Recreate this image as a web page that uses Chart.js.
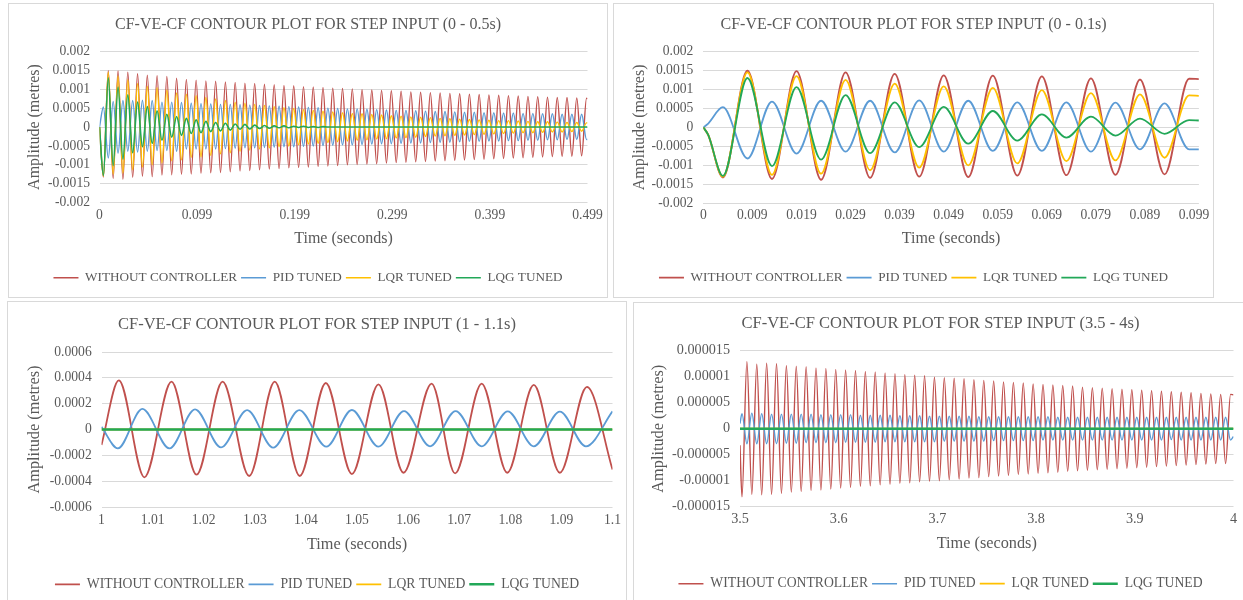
<!DOCTYPE html>
<html><head><meta charset="utf-8">
<script src="https://cdn.jsdelivr.net/npm/chart.js@4.4.1/dist/chart.umd.min.js"></script>
<style>
html,body{margin:0;padding:0;background:#fff;width:1243px;height:600px;overflow:hidden;position:relative}
.panel{position:absolute;border:1px solid #D9D9D9;background:#fff;box-sizing:content-box}
.panel canvas{display:block}
</style></head>
<body>
<div class="panel" style="left:8px;top:3px;width:598px;height:293px"><canvas id="c1" width="598" height="293"></canvas></div>
<div class="panel" style="left:613px;top:3px;width:599px;height:293px"><canvas id="c2" width="599" height="293"></canvas></div>
<div class="panel" style="left:7px;top:301px;width:618px;height:300px"><canvas id="c3" width="618" height="300"></canvas></div>
<div class="panel" style="left:633px;top:302px;width:613px;height:300px"><canvas id="c4" width="613" height="300"></canvas></div>
<script>
// ---------- shared ----------
const seriesNames = ['WITHOUT CONTROLLER', 'PID TUNED', 'LQR TUNED', 'LQG TUNED'];
const seriesColors = ['#C0504D', '#5B9BD5', '#FFC000', '#22A858'];

// ---------- chart 1 : 0 - 0.5 s (time in ms, sample index) ----------
const xTickPos1 = [0, 100, 200, 300, 400, 500];
const xTickLabels1 = ['0', '0.099', '0.199', '0.299', '0.399', '0.499'];
const yTickLabels12 = ['-0.002', '-0.0015', '-0.001', '-0.0005', '0', '0.0005', '0.001', '0.0015', '0.002'];
const time1 = [0,4,9,14,19,24,29,34,39,44,49,54,59,64,69,74,79,84,89,94,99,
104,109,114,119,124,129,134,139,144,149,154,159,164,169,174,179,184,189,194,199,
204,209,214,219,224,229,234,239,244,249,254,259,264,269,274,279,284,289,294,299,
304,309,314,319,324,329,334,339,344,349,354,359,364,369,374,379,384,389,394,399,
404,409,414,419,424,429,434,439,444,449,454,459,464,469,474,479,484,489,494,499,500];
const red1 = [0,-0.00132,0.00149,-0.00136,0.00148,-0.00138,0.00145,-0.00133,0.00141,-0.0013,0.00137,-0.00131,0.00136,-0.00127,0.00134,-0.00126,0.00129,-0.00125,0.00126,-0.00124,0.00124,
-0.00122,0.00122,-0.00121,0.00121,-0.0012,0.00119,-0.00118,0.00118,-0.00116,0.00116,-0.00115,0.00115,-0.00113,0.00113,-0.00111,0.00112,-0.0011,0.0011,-0.00108,0.00109,
-0.00107,0.00107,-0.00106,0.00106,-0.00104,0.00105,-0.00103,0.00103,-0.00102,0.00102,-0.001,0.00101,-0.00099,0.00099,-0.00098,0.00098,-0.00097,0.00097,-0.00095,0.00096,
-0.00094,0.00095,-0.00093,0.00093,-0.00092,0.00092,-0.00091,0.00091,-0.0009,0.0009,-0.00089,0.00089,-0.00088,0.00088,-0.00087,0.00087,-0.00086,0.00086,-0.00085,0.00085,
-0.00084,0.00084,-0.00083,0.00083,-0.00082,0.00082,-0.00081,0.00081,-0.0008,0.0008,-0.00079,0.00079,-0.00078,0.00078,-0.00077,0.00078,-0.00077,0.00077,-0.00076,0.00076,0.00075];
const blue1 = [0,0.00053,-0.00082,0.00068,-0.00069,0.0007,-0.00064,0.0007,-0.00066,0.00071,-0.00064,0.0007,-0.00062,0.00066,-0.00062,0.00066,-0.00064,0.00065,-0.00058,0.00063,-0.00058,
0.00062,-0.00058,0.00061,-0.00058,0.0006,-0.00057,0.0006,-0.00056,0.00059,-0.00055,0.00058,-0.00055,0.00057,-0.00054,0.00056,-0.00053,0.00055,-0.00052,0.00054,-0.00052,
0.00053,-0.00051,0.00052,-0.0005,0.00051,-0.00049,0.0005,-0.00048,0.00049,-0.00047,0.00048,-0.00047,0.00048,-0.00046,0.00047,-0.00045,0.00046,-0.00044,0.00045,-0.00044,
0.00044,-0.00043,0.00044,-0.00042,0.00043,-0.00042,0.00042,-0.00041,0.00041,-0.0004,0.00041,-0.0004,0.0004,-0.00039,0.00039,-0.00038,0.00039,-0.00038,0.00038,-0.00037,
0.00038,-0.00037,0.00037,-0.00036,0.00037,-0.00036,0.00036,-0.00035,0.00036,-0.00035,0.00035,-0.00034,0.00035,-0.00034,0.00034,-0.00033,0.00034,-0.00033,0.00034,-0.00033,-0.00033];
const yellow1 = [0,-0.0013,0.00145,-0.00125,0.00135,-0.00122,0.00125,-0.00113,0.00115,-0.00106,0.00108,-0.001,0.00104,-0.00095,0.00098,-0.00089,0.0009,-0.00087,0.00087,-0.0008,0.00083,
-0.00079,0.00078,-0.00075,0.00074,-0.00071,0.0007,-0.00068,0.00066,-0.00064,0.00063,-0.00061,0.0006,-0.00058,0.00057,-0.00055,0.00054,-0.00052,0.00051,-0.0005,0.00049,
-0.00047,0.00046,-0.00045,0.00044,-0.00043,0.00042,-0.00041,0.0004,-0.00039,0.00038,-0.00037,0.00036,-0.00035,0.00035,-0.00034,0.00033,-0.00032,0.00032,-0.00031,0.0003,
-0.00029,0.00029,-0.00028,0.00027,-0.00027,0.00026,-0.00025,0.00025,-0.00024,0.00023,-0.00023,0.00022,-0.00022,0.00021,-0.00021,0.0002,-0.0002,0.00019,-0.00019,0.00018,
-0.00018,0.00017,-0.00017,0.00017,-0.00016,0.00016,-0.00015,0.00015,-0.00015,0.00014,-0.00014,0.00014,-0.00013,0.00013,-0.00013,0.00012,-0.00012,0.00012,-0.00011,0.00011,0.00011];
const green1 = [0,-0.00128,0.0013,-0.00102,0.00106,-0.00085,0.00085,-0.00068,0.00066,-0.00052,0.00054,-0.00043,0.00043,-0.00035,0.00034,-0.00027,0.00028,-0.00022,0.00023,-0.00017,0.00019,
-0.00015,0.00015,-0.00012,0.00012,-0.0001,0.0001,-0.00008,0.00008,-0.00006,0.00007,-0.00005,0.00005,-0.00004,0.00004,-0.00003,0.00003,-0.00002,0.00003,-0.00002,0.00002,
-0.00001,0.00002,-0.00001,0.00001,-0.00001,0.00001,0,0,0,0,0,0,0,0,0,0,0,0,0,0,
0,0,0,0,0,0,0,0,0,0,0,0,0,0,0,0,0,0,0,0,
0,0,0,0,0,0,0,0,0,0,0,0,0,0,0,0,0,0,0,0,0];

// ---------- chart 2 : 0 - 0.1 s (time in ms, sample index) ----------
const xTickPos2 = [0, 10, 20, 30, 40, 50, 60, 70, 80, 90, 100];
const xTickLabels2 = ['0', '0.009', '0.019', '0.029', '0.039', '0.049', '0.059', '0.069', '0.079', '0.089', '0.099'];
const time2 = [0,1,4,9,14,19,24,29,34,39,44,49,54,59,64,69,74,79,84,89,94,99,101];
const red2 = [0,-0.0002,-0.00132,0.00149,-0.00136,0.00148,-0.00138,0.00145,-0.00133,0.00141,-0.0013,0.00137,-0.00131,0.00136,-0.00127,0.00134,-0.00126,0.00129,-0.00125,0.00126,-0.00124,0.00128,0.00127];
const blue2 = [0,0.0001,0.00053,-0.00082,0.00068,-0.00069,0.0007,-0.00064,0.0007,-0.00066,0.00071,-0.00064,0.0007,-0.00062,0.00066,-0.00062,0.00066,-0.00064,0.00065,-0.00058,0.00063,-0.00058,-0.00058];
const yellow2 = [0,-0.0002,-0.0013,0.00145,-0.00125,0.00135,-0.00122,0.00125,-0.00113,0.00115,-0.00106,0.00108,-0.001,0.00104,-0.00095,0.00098,-0.00089,0.0009,-0.00087,0.00087,-0.0008,0.00084,0.00083];
const green2 = [0,-0.0002,-0.00128,0.0013,-0.00102,0.00106,-0.00085,0.00085,-0.00068,0.00066,-0.00052,0.00054,-0.00043,0.00043,-0.00035,0.00034,-0.00027,0.00028,-0.00022,0.00023,-0.00017,0.00019,0.00018];

// ---------- chart 3 : 1 - 1.1 s ----------
const xTickLabels3 = ['1', '1.01', '1.02', '1.03', '1.04', '1.05', '1.06', '1.07', '1.08', '1.09', '1.1'];
const yTickLabels3 = ['-0.0006', '-0.0004', '-0.0002', '0', '0.0002', '0.0004', '0.0006'];
const time3Red = [1,1.0034,1.0084,1.0137,1.0186,1.0237,1.0289,1.0339,1.0388,1.0439,1.049,1.0542,1.0591,1.0646,1.0692,1.0744,1.0794,1.0846,1.0897,1.095,1.1];
const red3 = [-0.00012,0.00038,-0.00037,0.00037,-0.00035,0.00037,-0.00036,0.00037,-0.00036,0.00036,-0.000345,0.00035,-0.000335,0.000355,-0.00034,0.000355,-0.000335,0.000345,-0.000335,0.00033,-0.00031];
const time3Blue = [1,1.0032,1.008,1.0133,1.0183,1.0234,1.0285,1.0336,1.0387,1.044,1.049,1.0542,1.0592,1.0643,1.0693,1.0744,1.0795,1.0846,1.0897,1.0948,1.1];
const blue3 = [0.00002,-0.000146,0.000159,-0.000146,0.000156,-0.000139,0.00015,-0.00014,0.00015,-0.000133,0.000151,-0.000133,0.000143,-0.00013,0.000143,-0.00013,0.00014,-0.00013,0.000138,-0.00013,0.00014];
const time3Flat = [1, 1.1];
const yellow3 = [0, 0];
const green3 = [0, 0];

// ---------- chart 4 : 3.5 - 4 s ----------
const xTickLabels4 = ['3.5', '3.6', '3.7', '3.8', '3.9', '4'];
const yTickLabels4 = ['-0.000015', '-0.00001', '-0.000005', '0', '0.000005', '0.00001', '0.000015'];
const time4 = [3.5,3.502,3.507,3.512,3.517,3.522,3.527,3.532,3.537,3.542,3.547,3.552,3.557,3.562,3.567,3.572,3.577,3.582,3.587,3.592,3.597,
3.602,3.607,3.612,3.617,3.622,3.627,3.632,3.637,3.642,3.647,3.652,3.657,3.662,3.667,3.672,3.677,3.682,3.687,3.692,3.697,
3.702,3.707,3.712,3.717,3.722,3.727,3.732,3.737,3.742,3.747,3.752,3.757,3.762,3.767,3.772,3.777,3.782,3.787,3.792,3.797,
3.802,3.807,3.812,3.817,3.822,3.827,3.832,3.837,3.842,3.847,3.852,3.857,3.862,3.867,3.872,3.877,3.882,3.887,3.892,3.897,
3.902,3.907,3.912,3.917,3.922,3.927,3.932,3.937,3.942,3.947,3.952,3.957,3.962,3.967,3.972,3.977,3.982,3.987,3.992,3.997,4];
const red4 = [-3.2e-6,
-1.31e-5,1.29e-5,-1.26e-5,1.24e-5,-1.27e-5,1.26e-5,-1.26e-5,1.25e-5,-1.24e-5,1.21e-5,-1.22e-5,1.2e-5,-1.21e-5,1.19e-5,-1.19e-5,1.17e-5,-1.18e-5,1.16e-5,-1.16e-5,1.14e-5,
-1.14e-5,1.13e-5,-1.13e-5,1.12e-5,-1.11e-5,1.1e-5,-1.1e-5,1.09e-5,-1.08e-5,1.07e-5,-1.07e-5,1.06e-5,-1.05e-5,1.04e-5,-1.04e-5,1.03e-5,-1.02e-5,1.02e-5,-1.01e-5,9.9e-6,
-1e-5,9.8e-6,-9.8e-6,9.7e-6,-9.7e-6,9.6e-6,-9.5e-6,9.4e-6,-9.4e-6,9.3e-6,-9.2e-6,9.2e-6,-9.1e-6,9e-6,-9e-6,8.9e-6,-8.8e-6,8.8e-6,-8.7e-6,8.6e-6,
-8.6e-6,8.5e-6,-8.5e-6,8.4e-6,-8.4e-6,8.3e-6,-8.2e-6,8.2e-6,-8.1e-6,8e-6,-8e-6,7.9e-6,-7.9e-6,7.8e-6,-7.8e-6,7.7e-6,-7.7e-6,7.6e-6,-7.6e-6,7.5e-6,
-7.5e-6,7.4e-6,-7.4e-6,7.3e-6,-7.3e-6,7.2e-6,-7.2e-6,7.1e-6,-7.1e-6,7e-6,-7e-6,6.9e-6,-6.9e-6,6.8e-6,-6.8e-6,6.7e-6,-6.7e-6,6.6e-6,-6.7e-6,6.6e-6,
6.5e-6];
const blue4 = [1e-6,
2.9e-6,-2.9e-6,3e-6,-2.9e-6,2.9e-6,-2.9e-6,2.8e-6,-2.9e-6,2.8e-6,-2.8e-6,2.8e-6,-2.8e-6,2.8e-6,-2.7e-6,2.8e-6,-2.7e-6,2.7e-6,-2.7e-6,2.7e-6,-2.7e-6,
2.7e-6,-2.6e-6,2.7e-6,-2.6e-6,2.6e-6,-2.6e-6,2.6e-6,-2.6e-6,2.6e-6,-2.5e-6,2.6e-6,-2.5e-6,2.5e-6,-2.5e-6,2.5e-6,-2.5e-6,2.5e-6,-2.5e-6,2.4e-6,-2.5e-6,
2.4e-6,-2.4e-6,2.4e-6,-2.4e-6,2.4e-6,-2.4e-6,2.4e-6,-2.4e-6,2.3e-6,-2.4e-6,2.3e-6,-2.3e-6,2.3e-6,-2.3e-6,2.3e-6,-2.3e-6,2.3e-6,-2.3e-6,2.3e-6,-2.3e-6,
2.3e-6,-2.2e-6,2.3e-6,-2.2e-6,2.2e-6,-2.2e-6,2.2e-6,-2.2e-6,2.2e-6,-2.2e-6,2.2e-6,-2.2e-6,2.2e-6,-2.2e-6,2.2e-6,-2.2e-6,2.2e-6,-2.2e-6,2.2e-6,-2.2e-6,
2.2e-6,-2.2e-6,2.2e-6,-2.2e-6,2.2e-6,-2.2e-6,2.2e-6,-2.1e-6,2.2e-6,-2.2e-6,2.2e-6,-2.2e-6,2.2e-6,-2.2e-6,2.2e-6,-2.2e-6,2.2e-6,-2.2e-6,2.2e-6,-2.2e-6,
-1.5e-6];
const time4Flat = [3.5, 4];
const yellow4 = [0, 0];
const green4 = [0, 0];

// ---------- builder ----------
const TXT = '#595959';
const FONT = '"Liberation Serif", "Times New Roman", serif';

function pairs(ts, vs) { return ts.map((t, i) => ({x: t, y: vs[i]})); }

function build(id, o) {
  const datasets = o.series.map((s, i) => ({
    label: seriesNames[i],
    data: pairs(s[0], s[1]),
    borderColor: seriesColors[i],
    backgroundColor: seriesColors[i],
    borderWidth: o.lw[i],
    pointRadius: 0,
    pointHoverRadius: 0,
    cubicInterpolationMode: 'monotone',
    fill: false,
    order: 4 - i
  }));
  new Chart(document.getElementById(id), {
    type: 'line',
    data: {datasets},
    options: {
      responsive: false,
      animation: false,
      events: [],
      layout: {padding: {left: o.padLR, right: o.padLR, top: 0, bottom: o.padB}},
      plugins: {
        title: {display: true, text: o.title, color: TXT,
          font: {family: FONT, size: o.fsTitle, weight: 'normal'},
          padding: {top: o.tPadT, bottom: o.tPadB}},
        legend: {position: 'bottom',
          labels: {color: TXT, font: {family: FONT, size: o.fsLeg},
            usePointStyle: true, pointStyle: 'line', pointStyleWidth: 25, padding: 4,
            sort: (a, b) => a.datasetIndex - b.datasetIndex}},
        tooltip: {enabled: false}
      },
      scales: {
        x: {type: 'linear', min: o.xMin, max: o.xMax,
          grid: {display: false, drawTicks: false}, border: {display: false},
          afterBuildTicks: s => { s.ticks = o.xPos.map(v => ({value: v})); },
          afterFit: s => { s.height = o.xH; },
          ticks: {autoSkip: false, maxRotation: 0, minRotation: 0, padding: o.xTickPad, color: TXT,
            font: {family: FONT, size: o.fsTick}, callback: (v, i) => o.xLab[i]},
          title: {display: true, text: 'Time (seconds)', color: TXT,
            font: {family: FONT, size: o.fsAx}, padding: {top: 0, bottom: o.xTitlePadB}}},
        y: {type: 'linear', min: Number(o.yLab[0]), max: Number(o.yLab[o.yLab.length - 1]),
          grid: {color: '#D9D9D9', lineWidth: 1, drawTicks: false}, border: {display: false},
          afterBuildTicks: s => { s.ticks = o.yLab.map(l => ({value: Number(l)})); },
          afterFit: s => { s.width = o.yW; },
          ticks: {autoSkip: false, padding: o.yTickPad, color: TXT, font: {family: FONT, size: o.fsTick},
            callback: (v, i) => o.yLab[i]},
          title: {display: true, text: 'Amplitude (metres)', color: TXT,
            font: {family: FONT, size: o.fsAx}, padding: {top: o.yTitlePadT, bottom: 0}}}
      }
    }
  });
}

build('c1', {
  title: 'CF-VE-CF CONTOUR PLOT FOR STEP INPUT (0 - 0.5s)',
  series: [[time1, red1], [time1, blue1], [time1, yellow1], [time1, green1]],
  xMin: 0, xMax: 500, xPos: xTickPos1, xLab: xTickLabels1, yLab: yTickLabels12,
  lw: [1.4, 1.4, 1.4, 1.6], fsTitle: 16, fsTick: 13.6, fsAx: 16, fsLeg: 13.2,
  padLR: 15, padB: 2.7, tPadT: 10.7, tPadB: 17.5,
  yW: 75.5, yTickPad: 9.5, yTitlePadT: 1.4,
  xH: 64.4, xTickPad: 4.2, xTitlePadB: 18.5
});
build('c2', {
  title: 'CF-VE-CF CONTOUR PLOT FOR STEP INPUT (0 - 0.1s)',
  series: [[time2, red2], [time2, blue2], [time2, yellow2], [time2, green2]],
  xMin: 0, xMax: 101, xPos: xTickPos2, xLab: xTickLabels2, yLab: yTickLabels12,
  lw: [1.8, 1.8, 1.8, 1.8], fsTitle: 16, fsTick: 13.6, fsAx: 16, fsLeg: 13.2,
  padLR: 14, padB: 2.7, tPadT: 10.7, tPadB: 17.5,
  yW: 75.3, yTickPad: 10, yTitlePadT: 2.4,
  xH: 63.8, xTickPad: 3.6, xTitlePadB: 18.5
});
build('c3', {
  title: 'CF-VE-CF CONTOUR PLOT FOR STEP INPUT (1 - 1.1s)',
  series: [[time3Red, red3], [time3Blue, blue3], [time3Flat, yellow3], [time3Flat, green3]],
  xMin: 1, xMax: 1.1, xPos: xTickLabels3.map(Number), xLab: xTickLabels3, yLab: yTickLabels3,
  lw: [1.8, 1.8, 1.8, 2.4], fsTitle: 16.5, fsTick: 13.6, fsAx: 16.3, fsLeg: 13.7,
  padLR: 13.5, padB: 0.85, tPadT: 12.4, tPadB: 17.8,
  yW: 80, yTickPad: 9.8, yTitlePadT: 3.7,
  xH: 66.45, xTickPad: 4.9, xTitlePadB: 18.67
});
build('c4', {
  title: 'CF-VE-CF CONTOUR PLOT FOR STEP INPUT (3.5 - 4s)',
  series: [[time4, red4], [time4, blue4], [time4Flat, yellow4], [time4Flat, green4]],
  xMin: 3.5, xMax: 4, xPos: xTickLabels4.map(Number), xLab: xTickLabels4, yLab: yTickLabels4,
  lw: [1.4, 1.4, 1.8, 2.4], fsTitle: 16.5, fsTick: 14.2, fsAx: 16.3, fsLeg: 13.7,
  padLR: 13.5, padB: 2.45, tPadT: 10.8, tPadB: 17.1,
  yW: 92.5, yTickPad: 10, yTitlePadT: 1.0,
  xH: 66.15, xTickPad: 4.1, xTitlePadB: 19.37
});
</script>
</body></html>
